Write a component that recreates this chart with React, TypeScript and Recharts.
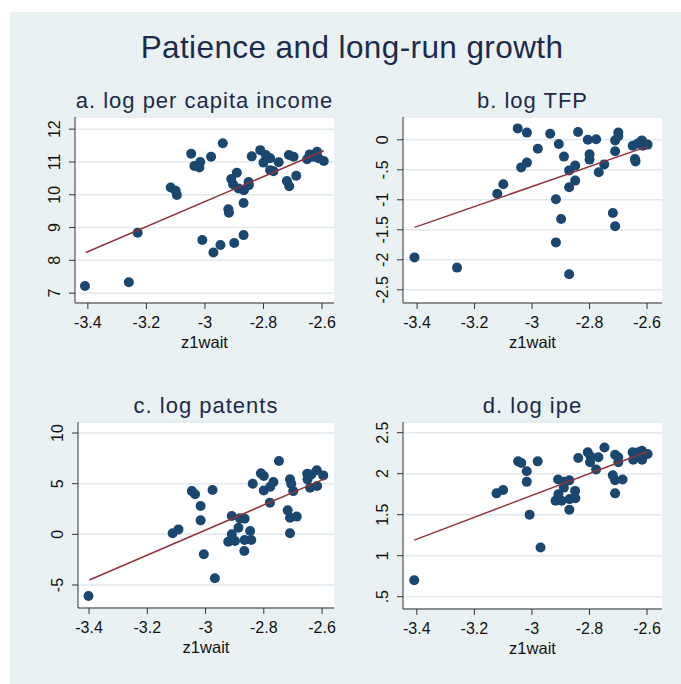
import { ScatterChart, Scatter, XAxis, YAxis, CartesianGrid } from 'recharts'

// shared x ticks (z1wait)
const xTicks = [-3.4, -3.2, -3, -2.8, -2.6]

// a. log per capita income
const aX = [-3.41, -3.26, -3.23, -3.117, -3.1, -3.096, -3.047, -3.036, -3.016, -3.019, -3.009, -2.979, -2.971, -2.947, -2.939, -2.92, -2.918, -2.91, -2.904, -2.9, -2.891, -2.885, -2.868, -2.868, -2.867, -2.851, -2.85, -2.84, -2.811, -2.8, -2.792, -2.777, -2.777, -2.766, -2.748, -2.72, -2.712, -2.713, -2.697, -2.688, -2.651, -2.642, -2.63, -2.617, -2.612, -2.594]
const aY = [7.22, 7.33, 8.84, 10.22, 10.12, 9.99, 11.25, 10.88, 11.0, 10.83, 8.62, 11.16, 8.24, 8.47, 11.57, 9.56, 9.45, 10.48, 10.32, 8.53, 10.67, 10.19, 9.75, 8.77, 10.14, 10.39, 10.29, 11.17, 11.36, 10.98, 11.21, 11.11, 10.75, 10.72, 10.99, 10.42, 10.26, 11.21, 11.16, 10.58, 11.08, 11.23, 11.16, 11.31, 11.11, 11.03]
const aFitX = [-3.407, -2.594]
const aFitY = [8.24, 11.34]
const aTicks = [7, 8, 9, 10, 11, 12]

// b. log TFP
const bX = [-3.409, -3.261, -3.121, -3.1, -3.05, -3.038, -3.018, -3.018, -2.98, -2.937, -2.917, -2.917, -2.907, -2.899, -2.889, -2.871, -2.871, -2.871, -2.85, -2.85, -2.84, -2.806, -2.8, -2.8, -2.777, -2.768, -2.749, -2.719, -2.711, -2.711, -2.711, -2.7, -2.7, -2.65, -2.642, -2.64, -2.632, -2.618, -2.615, -2.598]
const bY = [-1.96, -2.13, -0.9, -0.74, 0.19, -0.46, -0.38, 0.12, -0.15, 0.1, -0.99, -1.71, -0.07, -1.32, -0.28, -0.51, -0.79, -2.24, -0.43, -0.68, 0.13, 0.0, -0.24, -0.33, 0.01, -0.54, -0.41, -1.22, -0.01, -0.19, -1.44, 0.12, 0.06, -0.1, -0.32, -0.36, -0.06, -0.01, -0.1, -0.08]
const bFitX = [-3.409, -2.598]
const bFitY = [-1.46, -0.11]
const bTicks = [-2.5, -2, -1.5, -1, -0.5, 0]

// c. log patents
const cX = [-3.402, -3.113, -3.093, -3.047, -3.036, -3.017, -3.017, -3.006, -2.976, -2.968, -2.922, -2.91, -2.91, -2.899, -2.887, -2.882, -2.867, -2.866, -2.866, -2.847, -2.843, -2.838, -2.81, -2.8, -2.8, -2.779, -2.778, -2.767, -2.748, -2.718, -2.71, -2.71, -2.71, -2.706, -2.699, -2.687, -2.651, -2.65, -2.641, -2.637, -2.618, -2.617, -2.596]
const cY = [-6.09, 0.1, 0.49, 4.27, 3.95, 2.8, 1.38, -1.97, 4.37, -4.34, -0.72, 1.81, 0.0, -0.66, 0.66, 1.58, -1.64, 1.55, -0.56, 0.33, -0.56, 5.0, 6.02, 5.76, 4.34, 3.13, 4.7, 5.17, 7.24, 2.37, 5.43, 1.64, 0.1, 5.0, 4.27, 1.75, 5.99, 5.43, 4.61, 5.92, 6.32, 4.77, 5.82]
const cFitX = [-3.399, -2.59]
const cFitY = [-4.51, 5.5]
const cTicks = [-5, 0, 5, 10]

// d. log ipe
const dX = [-3.409, -3.123, -3.1, -3.048, -3.037, -3.018, -3.018, -3.008, -2.98, -2.97, -2.918, -2.909, -2.908, -2.897, -2.889, -2.888, -2.87, -2.87, -2.869, -2.85, -2.849, -2.839, -2.806, -2.798, -2.796, -2.777, -2.769, -2.748, -2.719, -2.711, -2.711, -2.711, -2.7, -2.7, -2.685, -2.65, -2.648, -2.63, -2.618, -2.617, -2.598]
const dY = [0.7, 1.76, 1.8, 2.15, 2.13, 2.03, 1.9, 1.5, 2.15, 1.1, 1.67, 1.93, 1.75, 1.67, 1.83, 1.9, 1.56, 1.92, 1.69, 1.79, 1.7, 2.19, 2.26, 2.14, 2.21, 2.05, 2.2, 2.32, 1.98, 2.23, 1.92, 1.76, 2.14, 2.2, 1.93, 2.26, 2.17, 2.26, 2.28, 2.17, 2.24]
const dFitX = [-3.409, -2.598]
const dFitY = [1.19, 2.27]
const dTicks = [0.5, 1, 1.5, 2, 2.5]

const FONT = '"Liberation Sans", Arial, Helvetica, sans-serif'
const NAVY = '#1c2b4b'

// stata style: drop leading zero
const fmt = (v: number) => String(v).replace(/^(-?)0\./, '$1.')

const XTick = (p: any) => (
  <text x={p.x} y={p.y} dy={17} textAnchor="middle" fontSize={16} fill="#111" fontFamily={FONT}>
    {fmt(p.payload.value)}
  </text>
)

const YTick = (p: any) => {
  const x = p.x - 7
  return (
    <text x={x} y={p.y} transform={`rotate(-90 ${x} ${p.y})`} textAnchor="middle" fontSize={16} fill="#111" fontFamily={FONT}>
      {fmt(p.payload.value)}
    </text>
  )
}

const Dot = (p: any) => <circle cx={p.cx} cy={p.cy} r={5} fill="#1a476f" />
const NoDot = () => <g />

const panels = [
  { title: 'a. log per capita income', box: [75, 117, 334, 303], xd: [-3.444, -2.559], yd: [6.7, 12.37], yt: aTicks, xs: aX, ys: aY, fx: aFitX, fy: aFitY },
  { title: 'b. log TFP', box: [403, 117, 662, 303], xd: [-3.449, -2.548], yd: [-2.72, 0.38], yt: bTicks, xs: bX, ys: bY, fx: bFitX, fy: bFitY },
  { title: 'c. log patents', box: [78, 422, 334, 608], xd: [-3.438, -2.559], yd: [-7.27, 11.09], yt: cTicks, xs: cX, ys: cY, fx: cFitX, fy: cFitY },
  { title: 'd. log ipe', box: [403, 422, 662, 609], xd: [-3.448, -2.548], yd: [0.35, 2.63], yt: dTicks, xs: dX, ys: dY, fx: dFitX, fy: dFitY },
]

function Panel({ p }: { p: any }) {
  const [l, t, r, b] = p.box
  const w = r - l
  const h = b - t
  const pts = p.xs.map((x: number, i: number) => ({ x, y: p.ys[i] }))
  const fit = p.fx.map((x: number, i: number) => ({ x, y: p.fy[i] }))
  return (
    <div style={{ position: 'absolute', left: l - 40, top: t - 10 }}>
      <ScatterChart width={w + 50} height={h + 40} margin={{ top: 10, right: 10, bottom: 0, left: 0 }}>
        <CartesianGrid vertical={false} fill="#fff" stroke="#e2eaed" strokeWidth={1.5} />
        <XAxis type="number" dataKey="x" domain={p.xd} ticks={xTicks} allowDataOverflow height={30} stroke="#333" tick={XTick} />
        <YAxis type="number" dataKey="y" domain={p.yd} ticks={p.yt} allowDataOverflow width={40} stroke="#333" tick={YTick} />
        <Scatter data={pts} shape={Dot} isAnimationActive={false} />
        <Scatter data={fit} shape={NoDot} line={{ stroke: '#90353b', strokeWidth: 1.5 }} isAnimationActive={false} />
      </ScatterChart>
    </div>
  )
}

export default function App() {
  return (
    <div style={{ position: 'absolute', left: 0, top: 0, width: 681, height: 684, background: '#fff', fontFamily: FONT }}>
      <svg width={681} height={684} style={{ position: 'absolute', left: 0, top: 0 }}>
        <rect x={10} y={12} width={671} height={672} fill="#eaf1f3" />
        <text x={352} y={58} textAnchor="middle" fontSize={31.5} letterSpacing={0.4} fill={NAVY} fontFamily={FONT}>
          Patience and long-run growth
        </text>
        {panels.map((p) => {
          const [l, t, r, b] = p.box
          const cx = (l + r) / 2
          return (
            <g key={p.title}>
              <text x={cx} y={t - 9} textAnchor="middle" fontSize={22} letterSpacing={1} fill={NAVY} fontFamily={FONT}>
                {p.title}
              </text>
              <text x={cx} y={b + 45} textAnchor="middle" fontSize={16.5} fill="#111" fontFamily={FONT}>
                z1wait
              </text>
            </g>
          )
        })}
      </svg>
      {panels.map((p) => (
        <Panel key={p.title} p={p} />
      ))}
    </div>
  )
}
